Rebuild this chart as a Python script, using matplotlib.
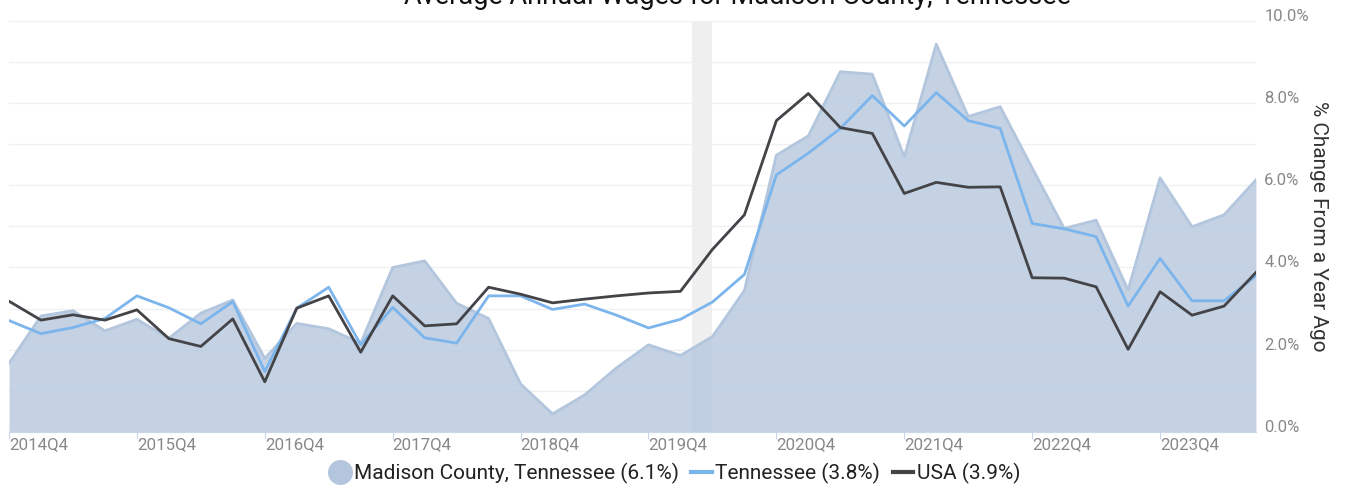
import numpy as np
import matplotlib
matplotlib.use("Agg")
import matplotlib.pyplot as plt
from matplotlib.lines import Line2D

plt.rcParams['font.family'] = ['Roboto', 'DejaVu Sans']

quarters = [f"{y}Q{q}" for y in range(2014, 2025) for q in range(1, 5)][3:43]
madison = [1.67, 2.82, 2.95, 2.46, 2.74, 2.28, 2.89, 3.21, 1.79, 2.64,
           2.51, 2.16, 4.00, 4.16, 3.13, 2.76, 1.17, 0.44, 0.90, 1.56,
           2.12, 1.86, 2.32, 3.44, 6.73, 7.20, 8.76, 8.70, 6.69, 9.43,
           7.67, 7.91, 6.42, 4.95, 5.15, 3.45, 6.18, 4.99, 5.28, 6.13]
tennessee = [2.71, 2.39, 2.54, 2.76, 3.31, 3.02, 2.63, 3.17, 1.47, 3.01,
             3.52, 2.12, 3.03, 2.29, 2.16, 3.31, 3.31, 2.98, 3.11, 2.84,
             2.53, 2.74, 3.16, 3.83, 6.25, 6.78, 7.38, 8.18, 7.44, 8.25,
             7.57, 7.38, 5.07, 4.94, 4.75, 3.06, 4.22, 3.19, 3.19, 3.80]
usa = [3.18, 2.72, 2.85, 2.72, 2.97, 2.27, 2.08, 2.75, 1.22, 3.01,
       3.31, 1.94, 3.31, 2.58, 2.63, 3.52, 3.35, 3.14, 3.23, 3.31,
       3.38, 3.42, 4.44, 5.28, 7.57, 8.23, 7.40, 7.26, 5.80, 6.07,
       5.95, 5.96, 3.75, 3.74, 3.53, 2.01, 3.41, 2.84, 3.06, 3.88]
recession = (21.35, 22.0)

x = np.arange(len(quarters))

fig = plt.figure(figsize=(13.49, 4.9), dpi=100)
ax = fig.add_axes([9/1349, 1-432/490, (1256-9)/1349, (432-20.7)/490])

ax.axvspan(*recession, color='#efefef', lw=0, zorder=0)
ax.fill_between(x, 0, madison, color='#b0c4dc', alpha=0.75, lw=0, zorder=2)
ax.plot(x, madison, color='#b3c6dd', lw=2, zorder=2)
ax.plot(x, tennessee, color='#7cb5ec', lw=2, zorder=3)
ax.plot(x, usa, color='#434348', lw=2, zorder=4)

ax.set_xlim(0, len(x) - 1)
ax.set_ylim(0, 10)

ax.yaxis.tick_right()
ax.set_yticks(np.arange(0, 11, 2))
ax.set_yticks(np.arange(0, 11, 1), minor=True)
ax.set_yticklabels([f"{v:.1f}%" for v in np.arange(0, 11, 2)])
ax.grid(axis='y', which='both', color='#f0f0f0', lw=1, zorder=1)
ax.tick_params(axis='y', which='both', length=0, pad=6, labelsize=12, labelcolor='#888888')
for lbl in ax.get_yticklabels():
    lbl.set_va('baseline')

xt = [i for i, q in enumerate(quarters) if q.endswith('Q4')]
ax.set_xticks(xt)
ax.set_xticklabels([quarters[i] for i in xt], ha='left')
ax.tick_params(axis='x', length=5, color='#ccd6eb', pad=-1, labelsize=12.2, labelcolor='#888888')

for s in ['top', 'left', 'right']:
    ax.spines[s].set_visible(False)
ax.spines['bottom'].set_color('#ccd6eb')
ax.set_axisbelow(True)

ax.yaxis.set_label_position('right')
ax.set_ylabel('% Change From a Year Ago', rotation=270, fontsize=15,
              color='#333333', labelpad=14)

fig.text(738/1349, 1-4/490, 'Average Annual Wages for Madison County, Tennessee',
         ha='center', va='baseline', fontsize=19.5, color='#111111')

handles = [Line2D([], [], marker='o', ls='none', ms=17, color='#b3c6dd'),
           Line2D([], [], color='#7cb5ec', lw=3),
           Line2D([], [], color='#434348', lw=3)]
labels = ['Madison County, Tennessee (6.1%)', 'Tennessee (3.8%)', 'USA (3.9%)']
fig.legend(handles, labels, loc='center', bbox_to_anchor=(675/1349, 1-473/490),
           ncol=3, frameon=False, fontsize=15, handlelength=1.0,
           handletextpad=0.15, columnspacing=0.6, labelcolor='#222222')

fig.savefig('out.png', dpi=100)
